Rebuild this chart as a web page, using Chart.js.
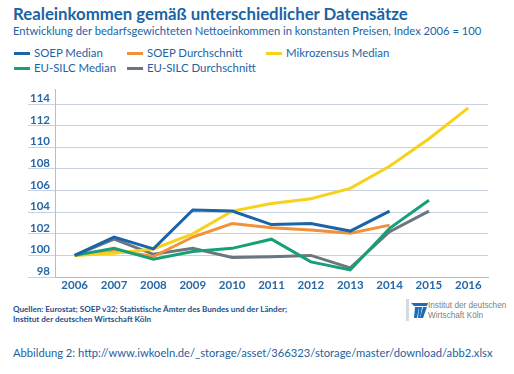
<!DOCTYPE html>
<html>
<head>
<meta charset="utf-8">
<script src="https://cdn.jsdelivr.net/npm/chart.js@4"></script>
<style>
  html, body { margin: 0; padding: 0; background: #fff; }
  body { width: 514px; height: 374px; position: relative; overflow: hidden; font-family: Lato, "Noto Sans", sans-serif; }
  .title { position: absolute; left: 13px; top: 3px; font-size: 16.8px; font-weight: 700; color: #1b63a6; white-space: nowrap; }
  .subtitle { position: absolute; left: 13px; top: 24px; font-size: 11.2px; color: #1b63a6; white-space: nowrap; }
  .legend { position: absolute; left: 14px; top: 46px; width: 480px; }
  .legend .item { position: absolute; font-size: 11.4px; color: #1b63a6; white-space: nowrap; line-height: 14px; }
  .legend .swatch { display: inline-block; width: 16px; height: 3px; vertical-align: middle; margin-right: 4px; position: relative; top: -1px; }
  #wrap { position: absolute; left: 0; top: 80px; width: 514px; height: 215px; }
  .sources { position: absolute; left: 13px; top: 305px; font-size: 8.1px; line-height: 9.5px; color: #1d4f8a; font-weight: 700; white-space: nowrap; }
  .logo { position: absolute; left: 406px; top: 299px; width: 100px; height: 22px; }
  .logo .bar { position: absolute; left: 0; top: 0; width: 3px; height: 22px; background: #d6d9dd; }
  .logo .mark { position: absolute; left: 5px; top: 4px; }
  .logo .txt { position: absolute; left: 22px; top: 2px; font-size: 8.2px; line-height: 9.5px; color: #7b7f85; white-space: nowrap; font-family: "Liberation Sans", Arial, sans-serif; }
  .ref { position: absolute; left: 13px; top: 346px; font-size: 11.2px; color: #1f5f9e; white-space: nowrap; }
</style>
</head>
<body>
<div class="title">Realeinkommen gemäß unterschiedlicher Datensätze</div>
<div class="subtitle">Entwicklung der bedarfsgewichteten Nettoeinkommen in konstanten Preisen, Index 2006 = 100</div>
<div class="legend" id="legend"></div>
<div id="wrap"><canvas id="incomeChart"></canvas></div>
<div class="sources">Quellen: Eurostat; SOEP v32; Statistische Ämter des Bundes und der Länder;<br>Institut der deutschen Wirtschaft Köln</div>
<div class="logo">
  <div class="bar"></div>
  <svg class="mark" width="17" height="15" viewBox="0 0 17 15">
    <polygon points="0,0 17,0 16,3 3,3" fill="#1b6db5"/>
    <polygon points="4,4 8,4 6,15 3,15" fill="#1b6db5"/>
    <polygon points="8,4 11,4 10,10 9,15 7,15" fill="#1b6db5"/>
    <polygon points="12,4 16,4 12,15 9,15" fill="#1b6db5"/>
  </svg>
  <div class="txt">Institut der deutschen<br>Wirtschaft Köln</div>
</div>
<div class="ref">Abbildung 2: http://www.iwkoeln.de/_storage/asset/366323/storage/master/download/abb2.xlsx</div>

<script>
// years on the x axis
const years = ['2006', '2007', '2008', '2009', '2010', '2011', '2012', '2013', '2014', '2015', '2016'];
const yTicks = [98, 100, 102, 104, 106, 108, 110, 112, 114];

// Index 2006 = 100
const soepMedian = [100, 101.7, 100.6, 104.2, 104.1, 102.85, 102.95, 102.25, 104.1, null, null];
const soepMean = [100, 100.5, 99.9, 101.7, 102.95, 102.55, 102.35, 102.05, 102.8, null, null];
const mikrozensusMedian = [100, 100.2, 100.6, 102.0, 104.1, 104.8, 105.25, 106.2, 108.25, 110.8, 113.65];
const silcMedian = [100, 100.65, 99.65, 100.35, 100.65, 101.5, 99.4, 98.65, 102.5, 105.1, null];
const silcMean = [100, 101.5, 100.1, 100.65, 99.8, 99.87, 100.0, 98.85, 102.2, 104.1, null];

const seriesNames = ['SOEP Median', 'SOEP Durchschnitt', 'Mikrozensus Median', 'EU-SILC Median', 'EU-SILC Durchschnitt'];
const seriesColors = ['#1c64a8', '#f0923a', '#f7d21c', '#17a077', '#6b7681'];
const seriesValues = [soepMedian, soepMean, mikrozensusMedian, silcMedian, silcMean];
const drawOrder = [0, 3, 2, 1, 4]; // lower = on top

// legend laid out in columns like the original
const legendPos = [[0, 0], [113, 0], [252, 0], [0, 15], [113, 15]];
const legendEl = document.getElementById('legend');
seriesNames.forEach((name, i) => {
    const item = document.createElement('div');
    item.className = 'item';
    item.style.left = legendPos[i][0] + 'px';
    item.style.top = legendPos[i][1] + 'px';
    item.innerHTML = '<span class="swatch" style="background:' + seriesColors[i] + '"></span>' + name;
    legendEl.appendChild(item);
});

const tickFont = { family: "Lato, 'Noto Sans', sans-serif", size: 11.5, weight: '700', lineHeight: 1.0 };
const axisBlue = '#9fc4e6';
const gridGrey = '#c9d2e0';

new Chart(document.getElementById('incomeChart'), {
    type: 'line',
    data: {
        labels: years,
        datasets: seriesValues.map((vals, i) => ({
            label: seriesNames[i],
            data: vals,
            borderColor: seriesColors[i],
            backgroundColor: seriesColors[i],
            borderWidth: 3,
            tension: 0,
            pointRadius: 0,
            fill: false,
            spanGaps: false,
            order: drawOrder[i]
        }))
    },
    options: {
        responsive: true,
        maintainAspectRatio: false,
        animation: false,
        layout: { padding: { top: 9, right: 26, left: 0, bottom: 0 } },
        plugins: {
            legend: { display: false },
            tooltip: { enabled: false }
        },
        scales: {
            x: {
                offset: true,
                grid: { display: false, drawTicks: false },
                border: { display: true, color: axisBlue, width: 1 },
                ticks: { font: tickFont, color: '#2668a8', padding: 3, maxRotation: 0, autoSkip: false },
                afterFit: (scale) => { scale.height = 18; }
            },
            y: {
                min: 98,
                max: 115.4,
                afterBuildTicks: (scale) => { scale.ticks = yTicks.map(v => ({ value: v })); },
                grid: { color: gridGrey, lineWidth: 1, drawTicks: true, tickLength: 27 },
                border: { display: true, color: axisBlue, width: 1 },
                ticks: {
                    font: tickFont,
                    color: '#2668a8',
                    padding: -22,
                    autoSkip: false,
                    // second empty line lifts the label above its gridline
                    callback: (value) => [String(value), '']
                },
                afterFit: (scale) => { scale.width = 55; }
            }
        }
    }
});
</script>
</body>
</html>
